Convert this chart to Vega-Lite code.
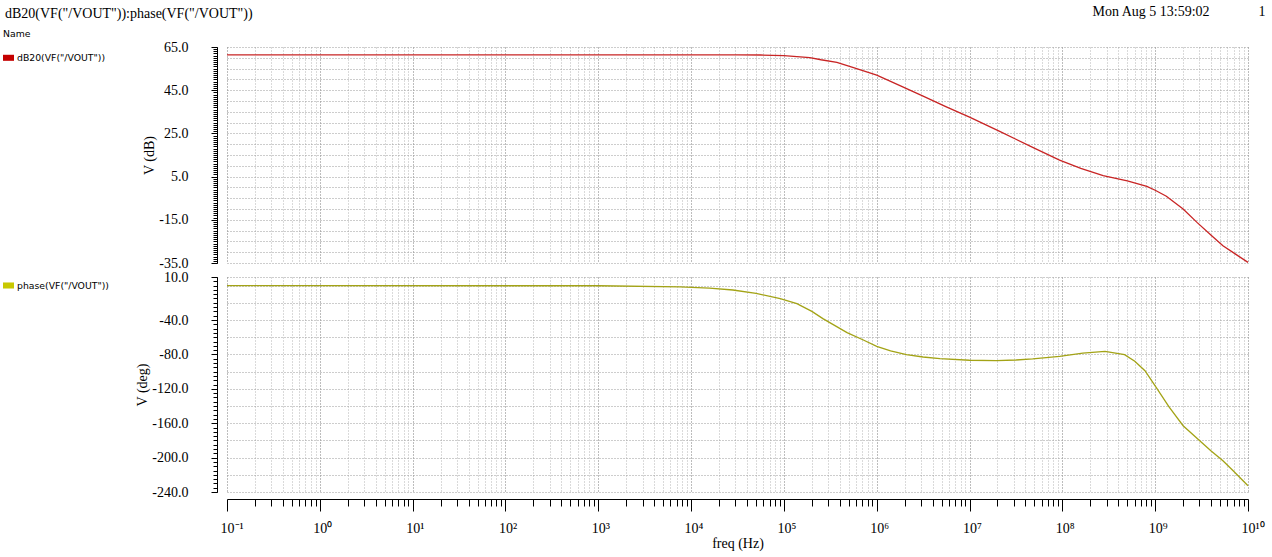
{
  "$schema": "https://vega.github.io/schema/vega-lite/v6.json",
  "background": "white",
  "padding": {"left": 3, "top": 5, "right": 5, "bottom": 3},
  "title": {"text": "dB20(VF(\"/VOUT\")):phase(VF(\"/VOUT\"))", "anchor": "start", "font": "Liberation Serif", "fontSize": 14, "fontWeight": "normal", "color": "#000", "offset": -16, "dx": 2},
  "datasets": {
    "mag": [
      {"f": 0.1, "dB": 61.4, "series": "dB20(VF(\"/VOUT\"))"},
      {"f": 10000, "dB": 61.4, "series": "dB20(VF(\"/VOUT\"))"},
      {"f": 31600, "dB": 61.4, "series": "dB20(VF(\"/VOUT\"))"},
      {"f": 56200, "dB": 61.3, "series": "dB20(VF(\"/VOUT\"))"},
      {"f": 100000, "dB": 61.0, "series": "dB20(VF(\"/VOUT\"))"},
      {"f": 190000, "dB": 60.1, "series": "dB20(VF(\"/VOUT\"))"},
      {"f": 251000, "dB": 59.1, "series": "dB20(VF(\"/VOUT\"))"},
      {"f": 372000, "dB": 57.9, "series": "dB20(VF(\"/VOUT\"))"},
      {"f": 562000, "dB": 55.4, "series": "dB20(VF(\"/VOUT\"))"},
      {"f": 1000000, "dB": 52.0, "series": "dB20(VF(\"/VOUT\"))"},
      {"f": 1780000, "dB": 47.1, "series": "dB20(VF(\"/VOUT\"))"},
      {"f": 3160000, "dB": 42.3, "series": "dB20(VF(\"/VOUT\"))"},
      {"f": 5620000, "dB": 37.3, "series": "dB20(VF(\"/VOUT\"))"},
      {"f": 10000000, "dB": 32.5, "series": "dB20(VF(\"/VOUT\"))"},
      {"f": 21400000, "dB": 25.8, "series": "dB20(VF(\"/VOUT\"))"},
      {"f": 31600000, "dB": 22.3, "series": "dB20(VF(\"/VOUT\"))"},
      {"f": 47900000, "dB": 18.5, "series": "dB20(VF(\"/VOUT\"))"},
      {"f": 93300000, "dB": 12.6, "series": "dB20(VF(\"/VOUT\"))"},
      {"f": 158000000, "dB": 8.8, "series": "dB20(VF(\"/VOUT\"))"},
      {"f": 275000000, "dB": 5.5, "series": "dB20(VF(\"/VOUT\"))"},
      {"f": 501000000, "dB": 3.0, "series": "dB20(VF(\"/VOUT\"))"},
      {"f": 813000000, "dB": 0.5, "series": "dB20(VF(\"/VOUT\"))"},
      {"f": 1000000000, "dB": -1.3, "series": "dB20(VF(\"/VOUT\"))"},
      {"f": 1320000000, "dB": -4.1, "series": "dB20(VF(\"/VOUT\"))"},
      {"f": 2000000000, "dB": -10.0, "series": "dB20(VF(\"/VOUT\"))"},
      {"f": 2820000000, "dB": -16.2, "series": "dB20(VF(\"/VOUT\"))"},
      {"f": 3980000000, "dB": -22.0, "series": "dB20(VF(\"/VOUT\"))"},
      {"f": 5370000000, "dB": -27.0, "series": "dB20(VF(\"/VOUT\"))"},
      {"f": 7410000000, "dB": -31.0, "series": "dB20(VF(\"/VOUT\"))"},
      {"f": 10000000000, "dB": -34.7, "series": "dB20(VF(\"/VOUT\"))"}
    ],
    "ph": [
      {"f": 0.1, "deg": 0, "series": "phase(VF(\"/VOUT\"))"},
      {"f": 1000, "deg": -0.2, "series": "phase(VF(\"/VOUT\"))"},
      {"f": 7600, "deg": -1.5, "series": "phase(VF(\"/VOUT\"))"},
      {"f": 15800, "deg": -3.0, "series": "phase(VF(\"/VOUT\"))"},
      {"f": 28200, "deg": -5.1, "series": "phase(VF(\"/VOUT\"))"},
      {"f": 50100, "deg": -9.0, "series": "phase(VF(\"/VOUT\"))"},
      {"f": 91200, "deg": -15.1, "series": "phase(VF(\"/VOUT\"))"},
      {"f": 138000, "deg": -21.0, "series": "phase(VF(\"/VOUT\"))"},
      {"f": 200000, "deg": -30.0, "series": "phase(VF(\"/VOUT\"))"},
      {"f": 263000, "deg": -38.4, "series": "phase(VF(\"/VOUT\"))"},
      {"f": 355000, "deg": -46.5, "series": "phase(VF(\"/VOUT\"))"},
      {"f": 479000, "deg": -54.7, "series": "phase(VF(\"/VOUT\"))"},
      {"f": 708000, "deg": -63.0, "series": "phase(VF(\"/VOUT\"))"},
      {"f": 1000000, "deg": -70.6, "series": "phase(VF(\"/VOUT\"))"},
      {"f": 1410000, "deg": -76.0, "series": "phase(VF(\"/VOUT\"))"},
      {"f": 2090000, "deg": -80.2, "series": "phase(VF(\"/VOUT\"))"},
      {"f": 3160000, "deg": -83.0, "series": "phase(VF(\"/VOUT\"))"},
      {"f": 4790000, "deg": -84.9, "series": "phase(VF(\"/VOUT\"))"},
      {"f": 10000000, "deg": -86.8, "series": "phase(VF(\"/VOUT\"))"},
      {"f": 19500000, "deg": -87.3, "series": "phase(VF(\"/VOUT\"))"},
      {"f": 31600000, "deg": -86.5, "series": "phase(VF(\"/VOUT\"))"},
      {"f": 47900000, "deg": -85.3, "series": "phase(VF(\"/VOUT\"))"},
      {"f": 93300000, "deg": -82.2, "series": "phase(VF(\"/VOUT\"))"},
      {"f": 166000000, "deg": -78.4, "series": "phase(VF(\"/VOUT\"))"},
      {"f": 288000000, "deg": -76.4, "series": "phase(VF(\"/VOUT\"))"},
      {"f": 468000000, "deg": -80.3, "series": "phase(VF(\"/VOUT\"))"},
      {"f": 603000000, "deg": -88.0, "series": "phase(VF(\"/VOUT\"))"},
      {"f": 776000000, "deg": -99.0, "series": "phase(VF(\"/VOUT\"))"},
      {"f": 1050000000, "deg": -120.0, "series": "phase(VF(\"/VOUT\"))"},
      {"f": 1410000000, "deg": -141.0, "series": "phase(VF(\"/VOUT\"))"},
      {"f": 2000000000, "deg": -162.9, "series": "phase(VF(\"/VOUT\"))"},
      {"f": 3020000000, "deg": -180.3, "series": "phase(VF(\"/VOUT\"))"},
      {"f": 3980000000, "deg": -192.0, "series": "phase(VF(\"/VOUT\"))"},
      {"f": 5370000000, "deg": -203.6, "series": "phase(VF(\"/VOUT\"))"},
      {"f": 6920000000, "deg": -215.2, "series": "phase(VF(\"/VOUT\"))"},
      {"f": 10000000000, "deg": -232.7, "series": "phase(VF(\"/VOUT\"))"}
    ]
  },
  "bounds": "flush",
  "spacing": 14,
  "vconcat": [
    {
      "width": 1021,
      "height": 216,
      "data": {"name": "mag"},
      "title": {"text": "Mon Aug 5 13:59:02\u00a0\u00a0\u00a0\u00a0\u00a0\u00a0\u00a0\u00a0\u00a0\u00a0\u00a0\u00a0\u00a0\u00a01", "anchor": "end", "font": "Liberation Serif", "fontSize": 14, "fontWeight": "normal", "color": "#000", "offset": 11, "dx": 15},
      "layer": [
        {
          "mark": {"type": "line", "opacity": 0},
          "encoding": {
            "x": {"field": "f", "type": "quantitative", "scale": {"type": "log", "domain": [0.1, 10000000000], "nice": false},
              "axis": {"values": [0.1,0.2,0.3,0.4,0.5,0.6,0.7,0.8,0.9,1,2,3,4,5,6,7,8,9,10,20,30,40,50,60,70,80,90,100,200,300,400,500,600,700,800,900,1000,2000,3000,4000,5000,6000,7000,8000,9000,1e4,2e4,3e4,4e4,5e4,6e4,7e4,8e4,9e4,1e5,2e5,3e5,4e5,5e5,6e5,7e5,8e5,9e5,1e6,2e6,3e6,4e6,5e6,6e6,7e6,8e6,9e6,1e7,2e7,3e7,4e7,5e7,6e7,7e7,8e7,9e7,1e8,2e8,3e8,4e8,5e8,6e8,7e8,8e8,9e8,1e9,2e9,3e9,4e9,5e9,6e9,7e9,8e9,9e9,1e10],
                "grid": true, "ticks": false, "labels": false, "domain": false, "title": null, "orient": "bottom",
                "gridDash": [1, 2], "gridWidth": 1,
                "gridColor": {"condition": {"test": "abs(log(datum.value)/LN10 - round(log(datum.value)/LN10)) < 0.001", "value": "#7a7a7a"}, "value": "#b4b4b4"}}},
            "y": {"field": "dB", "type": "quantitative", "scale": {"domain": [-35, 65], "nice": false, "zero": false},
              "axis": {"values": [-35,-30,-25,-20,-15,-10,-5,0,5,10,15,20,25,30,35,40,45,50,55,60,65], "grid": true, "ticks": false, "labels": false, "domain": false, "title": null, "gridDash": [1, 2], "gridColor": "#9a9a9a", "gridWidth": 1}}
          }
        },
        {
          "mark": {"type": "line", "opacity": 0},
          "encoding": {
            "x": {"field": "f", "type": "quantitative", "axis": null},
            "y": {"field": "dB", "type": "quantitative",
              "axis": {"values": [-35,-34,-33,-32,-31,-30,-29,-28,-27,-26,-25,-24,-23,-22,-21,-20,-19,-18,-17,-16,-15,-14,-13,-12,-11,-10,-9,-8,-7,-6,-5,-4,-3,-2,-1,0,1,2,3,4,5,6,7,8,9,10,11,12,13,14,15,16,17,18,19,20,21,22,23,24,25,26,27,28,29,30,31,32,33,34,35,36,37,38,39,40,41,42,43,44,45,46,47,48,49,50,51,52,53,54,55,56,57,58,59,60,61,62,63,64,65],
                "orient": "left", "offset": 10, "tickSize": 4, "tickColor": "#000", "labels": false, "domain": false, "grid": false, "title": null}}
          }
        },
        {
          "mark": {"type": "line", "color": "#c82424", "strokeWidth": 1.3},
          "encoding": {
            "x": {"field": "f", "type": "quantitative", "axis": null},
            "y": {"field": "dB", "type": "quantitative",
              "axis": {"values": [-35, -15, 5, 25, 45, 65], "labelExpr": "replace(format(datum.value, '.1f'), '\u2212', '-')", "orient": "left", "offset": 10, "tickSize": 6, "tickColor": "#000", "domainColor": "#000", "grid": false,
                "labelFont": "Liberation Serif", "labelFontSize": 14, "labelColor": "#000", "labelPadding": 23,
                "title": "V (dB)", "titleFont": "Liberation Serif", "titleFontSize": 14, "titleFontWeight": "normal", "titleColor": "#000", "titlePadding": 2}},
            "color": {"field": "series", "type": "nominal", "scale": {"range": ["#c82424"]},
              "legend": {"orient": "none", "legendX": -224, "legendY": -17, "title": "Name", "titleFont": "DejaVu Sans", "titleFontSize": 9.3, "titleFontWeight": "normal", "titleColor": "#000", "titlePadding": 13, "padding": 0,
                "labelFont": "DejaVu Sans", "labelFontSize": 9.3, "labelColor": "#000", "labelOffset": 3,
                "symbolType": "M-1,-0.55H1V0.55H-1Z", "symbolSize": 121, "symbolFillColor": "#c40000", "symbolStrokeColor": "#c40000", "symbolStrokeWidth": 0}}
          }
        }
      ],
      "resolve": {"axis": {"x": "independent", "y": "independent"}}
    },
    {
      "width": 1021,
      "height": 215,
      "data": {"name": "ph"},
      "layer": [
        {
          "mark": {"type": "line", "opacity": 0},
          "encoding": {
            "x": {"field": "f", "type": "quantitative", "scale": {"type": "log", "domain": [0.1, 10000000000], "nice": false},
              "axis": {"values": [0.1,0.2,0.3,0.4,0.5,0.6,0.7,0.8,0.9,1,2,3,4,5,6,7,8,9,10,20,30,40,50,60,70,80,90,100,200,300,400,500,600,700,800,900,1000,2000,3000,4000,5000,6000,7000,8000,9000,1e4,2e4,3e4,4e4,5e4,6e4,7e4,8e4,9e4,1e5,2e5,3e5,4e5,5e5,6e5,7e5,8e5,9e5,1e6,2e6,3e6,4e6,5e6,6e6,7e6,8e6,9e6,1e7,2e7,3e7,4e7,5e7,6e7,7e7,8e7,9e7,1e8,2e8,3e8,4e8,5e8,6e8,7e8,8e8,9e8,1e9,2e9,3e9,4e9,5e9,6e9,7e9,8e9,9e9,1e10],
                "grid": true, "ticks": false, "labels": false, "domain": false, "title": null, "orient": "bottom",
                "gridDash": [1, 2], "gridWidth": 1,
                "gridColor": {"condition": {"test": "abs(log(datum.value)/LN10 - round(log(datum.value)/LN10)) < 0.001", "value": "#7a7a7a"}, "value": "#b4b4b4"}}},
            "y": {"field": "deg", "type": "quantitative", "scale": {"domain": [-240, 10], "nice": false, "zero": false},
              "axis": {"values": [-240,-220,-200,-180,-160,-140,-120,-100,-80,-60,-40,-20,0,10], "grid": true, "ticks": false, "labels": false, "domain": false, "title": null, "gridDash": [1, 2], "gridColor": "#9a9a9a", "gridWidth": 1}}
          }
        },
        {
          "mark": {"type": "line", "opacity": 0},
          "encoding": {
            "x": {"field": "f", "type": "quantitative",
              "axis": {"values": [0.2,0.3,0.4,0.5,0.6,0.7,0.8,0.9,2,3,4,5,6,7,8,9,20,30,40,50,60,70,80,90,200,300,400,500,600,700,800,900,2000,3000,4000,5000,6000,7000,8000,9000,2e4,3e4,4e4,5e4,6e4,7e4,8e4,9e4,2e5,3e5,4e5,5e5,6e5,7e5,8e5,9e5,2e6,3e6,4e6,5e6,6e6,7e6,8e6,9e6,2e7,3e7,4e7,5e7,6e7,7e7,8e7,9e7,2e8,3e8,4e8,5e8,6e8,7e8,8e8,9e8,2e9,3e9,4e9,5e9,6e9,7e9,8e9,9e9],
                "orient": "bottom", "offset": 7, "tickSize": 7, "tickColor": "#000", "labels": false, "domain": false, "grid": false, "title": null}},
            "y": {"field": "deg", "type": "quantitative",
              "axis": {"values": [-240,-235,-230,-225,-220,-215,-210,-205,-200,-195,-190,-185,-180,-175,-170,-165,-160,-155,-150,-145,-140,-135,-130,-125,-120,-115,-110,-105,-100,-95,-90,-85,-80,-75,-70,-65,-60,-55,-50,-45,-40,-35,-30,-25,-20,-15,-10,-5,0,5,10],
                "orient": "left", "offset": 10, "tickSize": 4, "tickColor": "#000", "labels": false, "domain": false, "grid": false, "title": null}}
          }
        },
        {
          "mark": {"type": "line", "color": "#a3a316", "strokeWidth": 1.3},
          "encoding": {
            "x": {"field": "f", "type": "quantitative",
              "axis": {"values": [0.1,1,10,100,1000,1e4,1e5,1e6,1e7,1e8,1e9,1e10],
                "labelExpr": "['10⁻¹','10⁰','10¹','10²','10³','10⁴','10⁵','10⁶','10⁷','10⁸','10⁹','10¹⁰'][round(log(datum.value)/LN10)+1]",
                "orient": "bottom", "offset": 7, "tickSize": 12, "tickColor": "#000", "domainColor": "#000", "grid": false,
                "labelFont": "Liberation Serif", "labelFontSize": 14, "labelColor": "#000", "labelPadding": 10, "labelAlign": "left", "labelOffset": -7, "labelFlush": false, "labelOverlap": false,
                "title": "freq (Hz)", "titleFont": "Liberation Serif", "titleFontSize": 14, "titleFontWeight": "normal", "titleColor": "#000", "titlePadding": 1}},
            "y": {"field": "deg", "type": "quantitative",
              "axis": {"values": [-240, -200, -160, -120, -80, -40, 10], "labelExpr": "replace(format(datum.value, '.1f'), '\u2212', '-')", "orient": "left", "offset": 10, "tickSize": 6, "tickColor": "#000", "domainColor": "#000", "grid": false,
                "labelFont": "Liberation Serif", "labelFontSize": 14, "labelColor": "#000", "labelPadding": 23,
                "title": "V (deg)", "titleFont": "Liberation Serif", "titleFontSize": 14, "titleFontWeight": "normal", "titleColor": "#000", "titlePadding": 2}},
            "color": {"field": "series", "type": "nominal", "scale": {"range": ["#a3a316"]},
              "legend": {"orient": "none", "legendX": -224, "legendY": 3, "title": null, "padding": 0,
                "labelFont": "DejaVu Sans", "labelFontSize": 9.3, "labelColor": "#000", "labelOffset": 3,
                "symbolType": "M-1,-0.55H1V0.55H-1Z", "symbolSize": 121, "symbolFillColor": "#c8c800", "symbolStrokeColor": "#c8c800", "symbolStrokeWidth": 0}}
          }
        }
      ],
      "resolve": {"axis": {"x": "independent", "y": "independent"}}
    }
  ],
  "resolve": {"scale": {"color": "independent"}, "legend": {"color": "independent"}},
  "config": {"view": {"stroke": null}, "font": "Liberation Serif"}
}
